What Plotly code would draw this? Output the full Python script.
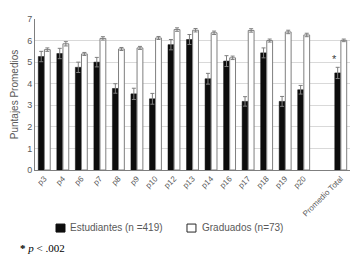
import plotly.graph_objects as go

categories = ["p3", "p4", "p6", "p7", "p8", "p9", "p10", "p12", "p13", "p14",
              "p16", "p17", "p18", "p19", "p20", " ", "Promedio Total"]
estudiantes = [5.26, 5.4, 4.76, 5.0, 3.78, 3.53, 3.3, 5.81, 6.05, 4.23,
               5.05, 3.18, 5.43, 3.18, 3.72, None, 4.5]
estudiantes_err = [0.24, 0.24, 0.24, 0.22, 0.22, 0.26, 0.25, 0.24, 0.23, 0.25,
                   0.25, 0.22, 0.23, 0.23, 0.2, None, 0.26]
graduados = [5.58, 5.85, 5.38, 6.1, 5.61, 5.66, 6.12, 6.51, 6.48, 6.36,
             5.2, 6.47, 6.0, 6.4, 6.26, None, 6.01]
graduados_err = [0.08, 0.1, 0.07, 0.08, 0.07, 0.07, 0.07, 0.08, 0.08, 0.08,
                 0.08, 0.08, 0.07, 0.08, 0.08, None, 0.06]
series_names = ["Estudiantes (n =419)", "Graduados (n=73)"]

txt = "#595959"
fig = go.Figure()
fig.add_trace(go.Bar(
    x=categories, y=estudiantes, name=series_names[0],
    marker=dict(color="#0d0d0d", line=dict(color="#0d0d0d", width=0.5)),
    error_y=dict(type="data", array=estudiantes_err, color="#7f7f7f",
                 thickness=1, width=2),
))
fig.add_trace(go.Bar(
    x=categories, y=graduados, name=series_names[1],
    marker=dict(color="white", line=dict(color="#7f7f7f", width=1)),
    error_y=dict(type="data", array=graduados_err, color="#7f7f7f",
                 thickness=1, width=2),
))

# significance marker
fig.add_annotation(x="Promedio Total", y=5.15, text="*", showarrow=False,
                   xshift=-6, font=dict(size=11, color="#404040"))

# custom legend (small squares next to text)
fig.add_shape(type="rect", xref="paper", yref="paper",
              x0=0.0667, x1=0.0952, y0=-0.411, y1=-0.358,
              fillcolor="#0d0d0d", line=dict(color="#0d0d0d", width=1))
fig.add_shape(type="rect", xref="paper", yref="paper",
              x0=0.4825, x1=0.511, y0=-0.411, y1=-0.358,
              fillcolor="white", line=dict(color="#262626", width=1))
fig.add_annotation(xref="paper", yref="paper", x=0.1048, y=-0.384,
                   xanchor="left", yanchor="middle", showarrow=False,
                   text=series_names[0], font=dict(size=10, color=txt))
fig.add_annotation(xref="paper", yref="paper", x=0.5238, y=-0.384,
                   xanchor="left", yanchor="middle", showarrow=False,
                   text=series_names[1], font=dict(size=10, color=txt))

# footnote
fig.add_annotation(xref="paper", yref="paper", x=-0.054, y=-0.517,
                   xanchor="left", yanchor="middle", showarrow=False,
                   text="<b>*</b> <i>p</i> &lt; .002",
                   font=dict(family="Liberation Serif", size=11, color="black"))

fig.update_layout(
    width=357, height=262,
    margin=dict(l=35, r=7, t=19, b=92),
    paper_bgcolor="white", plot_bgcolor="white",
    barmode="group", bargap=0.34, bargroupgap=0.05,
    font=dict(family="Liberation Sans", size=8, color=txt),
    showlegend=False,
)
fig.update_yaxes(range=[0, 7], dtick=1, showgrid=True, gridcolor="#d9d9d9",
                 gridwidth=1, showline=True, linecolor="#7f7f7f", linewidth=1,
                 ticks="", zeroline=False,
                 title=dict(text="Puntajes Promedios", font=dict(size=10, color=txt),
                            standoff=6),
                 tickfont=dict(size=9, color=txt))
fig.update_xaxes(showline=True, linecolor="#7f7f7f", linewidth=1, tickangle=-45,
                 tickfont=dict(size=8, color=txt), showgrid=False)

fig.write_html("out.html")
